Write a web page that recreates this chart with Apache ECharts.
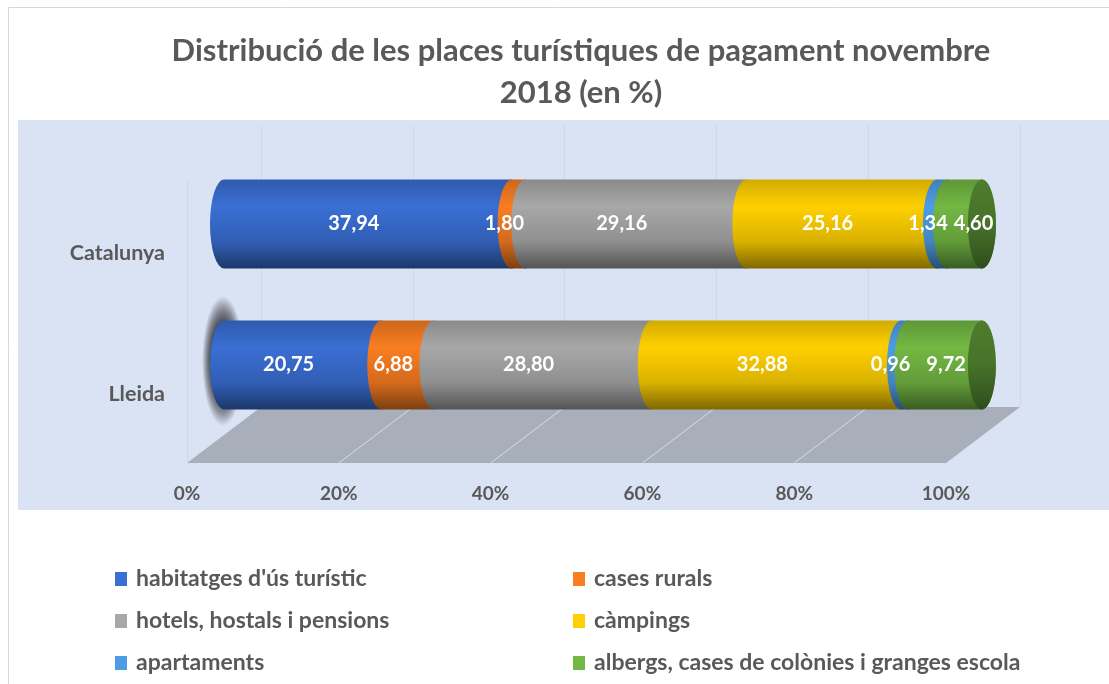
<!DOCTYPE html>
<html>
<head>
<meta charset="utf-8">
<script src="https://cdn.jsdelivr.net/npm/echarts@6/dist/echarts.min.js"></script>
<style>
  html, body { margin: 0; padding: 0; background: #fff; }
  #chart { width: 1109px; height: 684px; }
</style>
</head>
<body>
<div id="chart"></div>
<script>
// dades (en %)
const categories = ['Lleida', 'Catalunya'];
const seriesNames = [
  "habitatges d'ús turístic",
  'cases rurals',
  'hotels, hostals i pensions',
  'càmpings',
  'apartaments',
  'albergs, cases de colònies i granges escola'
];
const lleida = [20.75, 6.88, 28.80, 32.88, 0.96, 9.72];
const catalunya = [37.94, 1.80, 29.16, 25.16, 1.34, 4.60];
const xTicks = [0, 20, 40, 60, 80, 100];

const colors = ['#3a6fd4', '#f97d21', '#a8a8a8', '#ffd000', '#4e9de4', '#73b843'];
const FONT = 'Lato';
const TXT = '#595959';

const chart = echarts.init(document.getElementById('chart'));

// ajusta la lluminositat d'un color hex
function shade(hex, f) {
  const n = parseInt(hex.slice(1), 16);
  let r = (n >> 16) & 255, g = (n >> 8) & 255, b = n & 255;
  const t = f < 1 ? 0 : 255, k = f < 1 ? 1 - f : f - 1;
  r = Math.round(r + (t - r) * k);
  g = Math.round(g + (t - g) * k);
  b = Math.round(b + (t - b) * k);
  return 'rgb(' + r + ',' + g + ',' + b + ')';
}

function cylFill(hex) {
  return new echarts.graphic.LinearGradient(0, 0, 0, 1, [
    { offset: 0, color: shade(hex, 0.82) },
    { offset: 0.3, color: shade(hex, 1.0) },
    { offset: 0.7, color: shade(hex, 0.85) },
    { offset: 1, color: shade(hex, 0.5) }
  ]);
}

function capFill(hex) {
  return new echarts.graphic.LinearGradient(0, 0, 0, 1, [
    { offset: 0, color: shade(hex, 0.68) },
    { offset: 0.5, color: shade(hex, 0.62) },
    { offset: 1, color: shade(hex, 0.42) }
  ]);
}

const RX = 14;
const rows = [lleida, catalunya];

// dades apilades per cada serie: [inici, categoria, valor]
function stackData(si) {
  return rows.map(function (row, ci) {
    let start = 0;
    for (let k = 0; k < si; k++) start += row[k];
    return [start, ci, row[si]];
  });
}

const cylSeries = seriesNames.map(function (name, si) {
  const isLast = si === seriesNames.length - 1;
  return {
    name: name,
    type: 'custom',
    xAxisIndex: 0,
    yAxisIndex: 0,
    z: 2,
    itemStyle: { color: colors[si] },
    encode: { x: [0], y: 1 },
    data: stackData(si),
    renderItem: function (params, api) {
      const start = api.value(0), ci = api.value(1), val = api.value(2);
      const p0 = api.coord([start, ci]);
      const p1 = api.coord([start + val, ci]);
      const h = api.size([0, 1])[1] * 0.63;
      const ry = h / 2, yc = p0[1];
      const top = yc - ry, bot = yc + ry;
      const d = 'M' + p0[0] + ',' + top + ' L' + p1[0] + ',' + top +
        ' A' + RX + ',' + ry + ' 0 0 1 ' + p1[0] + ',' + bot +
        ' L' + p0[0] + ',' + bot +
        ' A' + RX + ',' + ry + ' 0 0 1 ' + p0[0] + ',' + top + ' Z';
      const children = [];
      if (si === 0 && categories[ci] === 'Lleida') {
        // ombra difuminada a l'esquerra de Lleida
        children.push({
          type: 'circle',
          x: p0[0] - 1,
          y: yc - 4,
          scaleY: 3.1,
          shape: { cx: 0, cy: 0, r: 21 },
          style: {
            fill: new echarts.graphic.RadialGradient(0.5, 0.5, 0.5, [
              { offset: 0, color: 'rgba(38,38,44,1)' },
              { offset: 0.5, color: 'rgba(38,38,44,0.95)' },
              { offset: 0.8, color: 'rgba(38,38,44,0.45)' },
              { offset: 1, color: 'rgba(38,38,44,0)' }
            ])
          }
        });
      }
      children.push({ type: 'path', shape: { pathData: d }, style: { fill: cylFill(colors[si]) } });
      if (isLast) {
        children.push({
          type: 'ellipse',
          shape: { cx: p1[0], cy: yc, rx: RX, ry: ry },
          style: { fill: capFill(colors[si]) }
        });
      }
      return { type: 'group', children: children };
    }
  };
});

// etiquetes de valor per sobre de tots els cilindres
const labelData = [];
seriesNames.forEach(function (n, si) {
  stackData(si).forEach(function (d) { labelData.push(d.concat([si])); });
});

const labelSeries = {
  type: 'custom',
  name: 'labels',
  xAxisIndex: 0,
  yAxisIndex: 0,
  z: 5,
  silent: true,
  data: labelData,
  renderItem: function (params, api) {
    const start = api.value(0), ci = api.value(1), val = api.value(2), si = api.value(3);
    const p0 = api.coord([start, ci]);
    const p1 = api.coord([start + val, ci]);
    let off = -RX;
    if (si === seriesNames.length - 1) off = val < 6 ? 9 : 1; // tram final: s'aparta de l'etiqueta anterior
    return {
      type: 'text',
      x: (p0[0] + p1[0]) / 2 + off,
      y: p0[1],
      style: {
        text: val.toFixed(2).replace('.', ','),
        fill: '#fff',
        font: 'bold 20px ' + FONT,
        align: 'center',
        verticalAlign: 'middle'
      }
    };
  }
};

const legendText = { color: TXT, fontFamily: FONT, fontWeight: 'bold', fontSize: 23, padding: [0, 0, 0, 4] };

const option = {
  animation: false,
  title: {
    text: 'Distribució de les places turístiques de pagament novembre\n2018 (en %)',
    left: 581,
    textAlign: 'center',
    top: 30,
    padding: 0,
    textStyle: { color: TXT, fontFamily: FONT, fontWeight: 'bold', fontSize: 31, lineHeight: 42 }
  },
  legend: [
    {
      data: [0, 2, 4].map(function (i) { return { name: seriesNames[i], itemStyle: { color: colors[i] } }; }),
      orient: 'vertical', left: 110, top: 562, itemGap: 18,
      itemWidth: 12, itemHeight: 14, icon: 'rect',
      textStyle: Object.assign({ lineHeight: 24 }, legendText)
    },
    {
      data: [1, 3, 5].map(function (i) { return { name: seriesNames[i], itemStyle: { color: colors[i] } }; }),
      orient: 'vertical', left: 568, top: 562, itemGap: 18,
      itemWidth: 12, itemHeight: 14, icon: 'rect',
      textStyle: Object.assign({ lineHeight: 24 }, legendText)
    }
  ],
  grid: [
    { left: 224, right: 127, top: 153.5, bottom: 248.5 }, // cilindres
    { left: 187, right: 163, top: 181, bottom: 221 },     // terra (davant)
    { left: 261, right: 89, top: 125, bottom: 277 },      // paret del fons
    { left: 224, right: 127, top: 182.5, bottom: 219.5 }  // etiquetes de categoria (perspectiva)
  ],
  xAxis: [
    { gridIndex: 0, type: 'value', min: 0, max: 100, show: false },
    {
      gridIndex: 1, type: 'value', min: 0, max: 100, interval: 20,
      axisLine: { show: false }, axisTick: { show: false }, splitLine: { show: false },
      axisLabel: { formatter: '{value}%', margin: 21, color: TXT, fontFamily: FONT, fontWeight: 'bold', fontSize: 19 }
    },
    {
      gridIndex: 2, type: 'value', min: 0, max: 100, interval: 20,
      axisLine: { show: false }, axisTick: { show: false }, axisLabel: { show: false },
      splitLine: { show: true, lineStyle: { color: '#d3d7de', width: 1 } }
    },
    { gridIndex: 3, type: 'value', min: 0, max: 100, show: false }
  ],
  yAxis: [
    { gridIndex: 0, type: 'category', data: categories, show: false },
    {
      gridIndex: 1, type: 'value', min: 0, max: 1,
      axisLine: { show: true, lineStyle: { color: '#d3d7de' } },
      axisTick: { show: false }, axisLabel: { show: false }, splitLine: { show: false }
    },
    { gridIndex: 2, type: 'value', min: 0, max: 1, show: false },
    {
      gridIndex: 3, type: 'category', data: categories,
      axisLine: { show: false }, axisTick: { show: false },
      axisLabel: { margin: 59, color: TXT, fontFamily: FONT, fontWeight: 'bold', fontSize: 21.5 }
    }
  ],
  series: cylSeries.concat([labelSeries])
};

chart.setOption(option);

// fons, marc i terra en perspectiva a partir dels eixos
const frontY = chart.convertToPixel({ yAxisIndex: 1 }, 0);
const backY = chart.convertToPixel({ yAxisIndex: 2 }, 0);
const floorLines = xTicks.slice(1, -1).map(function (t) {
  return {
    type: 'line', z: -5,
    shape: {
      x1: chart.convertToPixel({ xAxisIndex: 1 }, t), y1: frontY,
      x2: chart.convertToPixel({ xAxisIndex: 2 }, t), y2: backY
    },
    style: { stroke: '#d9dde3', lineWidth: 1 }
  };
});

chart.setOption({
  graphic: [
    { type: 'rect', z: -20, shape: { x: 18, y: 120, width: 1091, height: 390 }, style: { fill: '#dae3f3' } },
    { type: 'polyline', z: -20, shape: { points: [[8.5, 684], [8.5, 7.5], [1109, 7.5]] }, style: { stroke: '#d9d9d9', fill: null, lineWidth: 1 } },
    {
      type: 'polygon', z: -6,
      shape: {
        points: [
          [chart.convertToPixel({ xAxisIndex: 1 }, 0), frontY],
          [chart.convertToPixel({ xAxisIndex: 1 }, 100), frontY],
          [chart.convertToPixel({ xAxisIndex: 2 }, 100), backY],
          [chart.convertToPixel({ xAxisIndex: 2 }, 0), backY]
        ]
      },
      style: { fill: '#a8afba' }
    }
  ].concat(floorLines)
});

window.addEventListener('resize', function () { chart.resize(); });
</script>
</body>
</html>
